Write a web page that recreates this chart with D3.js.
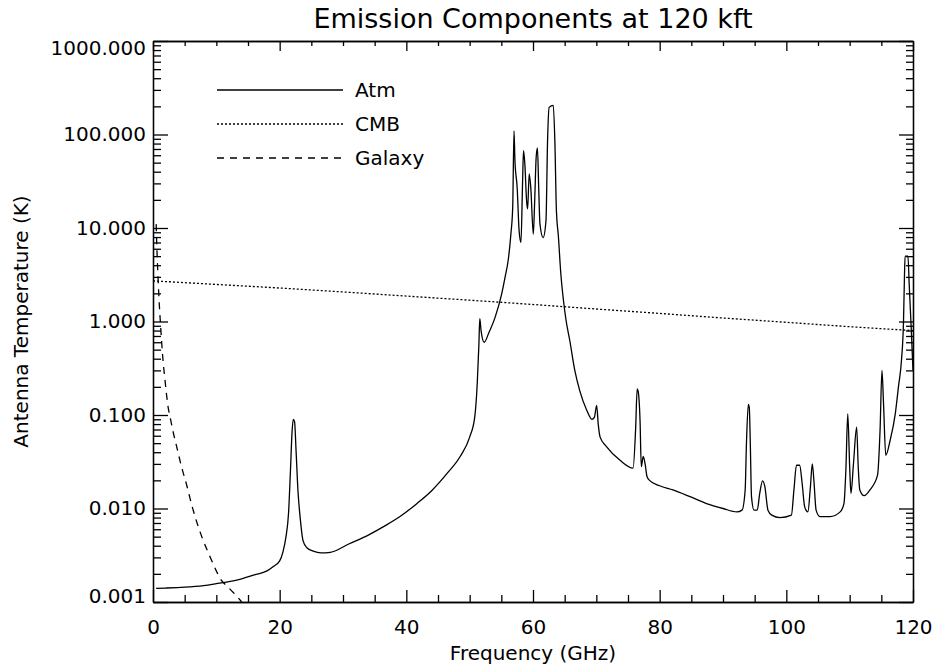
<!DOCTYPE html>
<html>
<head>
<meta charset="utf-8">
<script src="https://cdn.jsdelivr.net/npm/d3@7"></script>
<style>
    body { margin: 0; background: #fff; }
    text { fill: #000; }
</style>
</head>
<body>
<script>
// values
var atmFreq = [0.5, 2, 5, 8, 10, 12, 14, 16, 18, 19, 20, 20.5, 21.0, 21.4, 21.7, 21.95, 22.15, 22.35, 22.6, 22.9,
    23.2, 23.7, 24.3, 25.3, 26.5, 28, 31, 34, 36.4, 39, 41.6, 44, 46.5, 48.5, 50.0, 50.8, 51.2, 51.45, 51.6, 51.8,
    52.3, 53.0, 54.0, 55.0, 55.6, 56.1, 56.5, 56.8, 57.0, 57.15, 57.5, 57.8, 58.1, 58.35, 58.5, 58.7, 59.0, 59.15, 59.4, 59.65,
    60.05, 60.25, 60.5, 60.7, 60.9, 61.1, 61.6, 62.05, 62.3, 62.55, 63.2, 63.45, 63.7, 64.0, 64.4, 64.8, 65.2, 65.8, 66.6, 67.4,
    68.5, 69.3, 69.7, 70.05, 70.3, 70.6, 71.6, 73.7, 75.8, 76.2, 76.45, 76.6, 76.9, 77.1, 77.4, 77.7, 78.0, 78.4, 80, 82.1,
    85, 87.4, 90, 92.2, 93.0, 93.5, 93.7, 94.0, 94.15, 94.3, 94.5, 94.9, 95.4, 95.8, 96.25, 96.6, 97.1, 97.7, 99.0, 100.8,
    101.2, 101.6, 102.1, 102.5, 102.9, 103.4, 103.8, 104.1, 104.35, 104.7, 105.3, 106.9, 108.5, 109.1, 109.4, 109.7, 110.0, 110.2, 110.6, 111.1,
    111.35, 111.6, 112.3, 113.2, 114.4, 114.8, 115.1, 115.35, 115.7, 116.4, 117.2, 117.7, 118.2, 118.5, 118.65, 118.75, 119.2, 119.4, 119.7, 120];
var atmTemp = [0.00140, 0.00141, 0.00144, 0.00150, 0.00157, 0.00165, 0.00177, 0.00195, 0.00215, 0.00240, 0.00275, 0.0034, 0.0050, 0.0089, 0.025, 0.065, 0.090, 0.085, 0.040, 0.015,
    0.0085, 0.0045, 0.0038, 0.0035, 0.00335, 0.0034, 0.0042, 0.0052, 0.0064, 0.0082, 0.0112, 0.0155, 0.0240, 0.036, 0.058, 0.095, 0.22, 0.55, 1.07, 0.80,
    0.60, 0.75, 1.1, 1.9, 3.0, 4.6, 8.5, 17, 109, 52, 27, 9.5, 7.0, 30, 67, 50, 19, 16, 38, 27,
    8.6, 18, 57, 72, 27, 11, 7.9, 12, 86, 195, 205, 86, 15, 8.3, 3.2, 1.7, 1.05, 0.63, 0.30, 0.18,
    0.112, 0.090, 0.095, 0.127, 0.08, 0.058, 0.046, 0.033, 0.027, 0.07, 0.19, 0.18, 0.088, 0.028, 0.036, 0.030, 0.022, 0.020, 0.0175, 0.0158,
    0.0132, 0.0113, 0.0100, 0.0092, 0.0096, 0.0158, 0.049, 0.130, 0.120, 0.054, 0.0134, 0.0096, 0.0096, 0.0145, 0.0197, 0.0172, 0.0096, 0.0085, 0.0080, 0.0085,
    0.0158, 0.029, 0.029, 0.0185, 0.0104, 0.0092, 0.0170, 0.030, 0.020, 0.0096, 0.0082, 0.0082, 0.0092, 0.0113, 0.0257, 0.103, 0.028, 0.0145, 0.030, 0.074,
    0.028, 0.0158, 0.0137, 0.0158, 0.0227, 0.069, 0.30, 0.13, 0.037, 0.054, 0.103, 0.20, 0.40, 1.0, 3.0, 5.0, 5.0, 2.5, 0.9, 0.30];

var cmbFreq = [0, 10, 20, 30, 40, 50, 60, 70, 80, 90, 100, 110, 120];
var cmbTemp = [2.72, 2.49, 2.28, 2.07, 1.87, 1.69, 1.52, 1.36, 1.22, 1.09, 0.98, 0.88, 0.80];

var galFreq = [0.5, 0.6, 0.7, 0.8, 1.0, 1.2, 1.5, 1.9, 2.4, 2.7, 3.2, 3.7, 4.5, 5.3, 6.1, 6.9, 7.8, 8.7, 9.8, 10.8, 11.6, 12.5, 13.5, 14];
var galTemp = [11, 6.5, 4.2, 2.9, 1.5, 0.9, 0.45, 0.234, 0.12, 0.095, 0.065, 0.047, 0.028, 0.018, 0.011, 0.0072, 0.0048, 0.0034, 0.0023, 0.0017, 0.0015, 0.0013, 0.0011, 0.001];

var xTicks = [0, 20, 40, 60, 80, 100, 120];
var yTicks = [0.001, 0.01, 0.1, 1, 10, 100, 1000];
var legendNames = ["Atm", "CMB", "Galaxy"];
var legendDash = [null, "2,2", "7,6"];

var W = 934, H = 665;
var plotL = 153, plotR = 913, plotT = 41, plotB = 602;
var font = "'DejaVu Sans', sans-serif";

var svg = d3.select("body").append("svg").attr("width", W).attr("height", H);

var x = d3.scaleLinear().domain([0, 120]).range([plotL, plotR]);
var y = d3.scaleLog().domain([0.001, 1000]).range([plotB, plotT]);

var xMinor = d3.range(0, 121, 5).filter(function (d) { return d % 20 !== 0; });
var yMinor = [];
yTicks.slice(0, -1).forEach(function (d) {
    for (var k = 2; k <= 9; k++) yMinor.push(d * k);
});

function axes() {
    // minor ticks first
    svg.append("g").attr("transform", "translate(0," + plotB + ")")
        .call(d3.axisBottom(x).tickValues(xMinor).tickSize(-7).tickSizeOuter(0).tickFormat(""));
    svg.append("g").attr("transform", "translate(0," + plotT + ")")
        .call(d3.axisTop(x).tickValues(xMinor).tickSize(-5).tickSizeOuter(0).tickFormat(""));
    svg.append("g").attr("transform", "translate(" + plotL + ",0)")
        .call(d3.axisLeft(y).tickValues(yMinor).tickSize(-8).tickSizeOuter(0).tickFormat(""));
    svg.append("g").attr("transform", "translate(" + plotR + ",0)")
        .call(d3.axisRight(y).tickValues(yMinor).tickSize(-7).tickSizeOuter(0).tickFormat(""));

    svg.append("g").attr("transform", "translate(0," + plotB + ")")
        .call(d3.axisBottom(x).tickValues(xTicks).tickSize(-12).tickSizeOuter(0).tickPadding(18).tickFormat(d3.format("d")));
    svg.append("g").attr("transform", "translate(0," + plotT + ")")
        .call(d3.axisTop(x).tickValues(xTicks).tickSize(-10).tickSizeOuter(0).tickFormat(""));
    var yl = svg.append("g").attr("transform", "translate(" + plotL + ",0)")
        .call(d3.axisLeft(y).tickValues(yTicks).tickSize(-15).tickSizeOuter(0).tickPadding(7).tickFormat(d3.format(".3f")));
    svg.append("g").attr("transform", "translate(" + plotR + ",0)")
        .call(d3.axisRight(y).tickValues(yTicks).tickSize(-14).tickSizeOuter(0).tickFormat(""));

    // IDL keeps end labels inside the axis range
    yl.selectAll(".tick text").attr("y", function (d) {
        return d === 1000 ? 7 : (d === 0.001 ? -6 : 0);
    });

    svg.selectAll(".domain, .tick line").attr("stroke", "#000").attr("stroke-width", 1.3);
    svg.selectAll(".tick text").attr("font-size", 20).attr("font-family", font);
}

function curves() {
    svg.append("clipPath").attr("id", "plot").append("rect")
        .attr("x", plotL).attr("y", plotT).attr("width", plotR - plotL).attr("height", plotB - plotT);

    var line = d3.line().curve(d3.curveMonotoneX)
        .x(function (d) { return x(d[0]); }).y(function (d) { return y(d[1]); });
    var g = svg.append("g").attr("clip-path", "url(#plot)");

    var series = [
        d3.zip(atmFreq, atmTemp),
        d3.zip(cmbFreq, cmbTemp),
        d3.zip(galFreq, galTemp)
    ];
    series.forEach(function (s, i) {
        g.append("path").datum(s).attr("d", line)
            .attr("fill", "none").attr("stroke", "#000").attr("stroke-width", 1.3)
            .attr("stroke-dasharray", legendDash[i]);
    });
}

function legend() {
    legendNames.forEach(function (name, i) {
        var ly = 90 + i * 34;
        svg.append("line").attr("x1", 217).attr("x2", 343).attr("y1", ly).attr("y2", ly)
            .attr("stroke", "#000").attr("stroke-width", 1.3).attr("stroke-dasharray", legendDash[i]);
        svg.append("text").attr("x", 355).attr("y", ly + 7)
            .attr("font-size", 20).attr("font-family", font).text(name);
    });
}

function labels() {
    svg.append("text").attr("x", (plotL + plotR) / 2).attr("y", 28).attr("text-anchor", "middle")
        .attr("font-size", 27).attr("font-family", font).text("Emission Components at 120 kft");
    svg.append("text").attr("x", (plotL + plotR) / 2).attr("y", 660).attr("text-anchor", "middle")
        .attr("font-size", 20).attr("font-family", font).text("Frequency (GHz)");
    svg.append("text").attr("transform", "translate(28," + (plotT + plotB) / 2 + ") rotate(-90)")
        .attr("text-anchor", "middle").attr("font-size", 20).attr("font-family", font)
        .text("Antenna Temperature (K)");
}

curves();
axes();
legend();
labels();
</script>
</body>
</html>
